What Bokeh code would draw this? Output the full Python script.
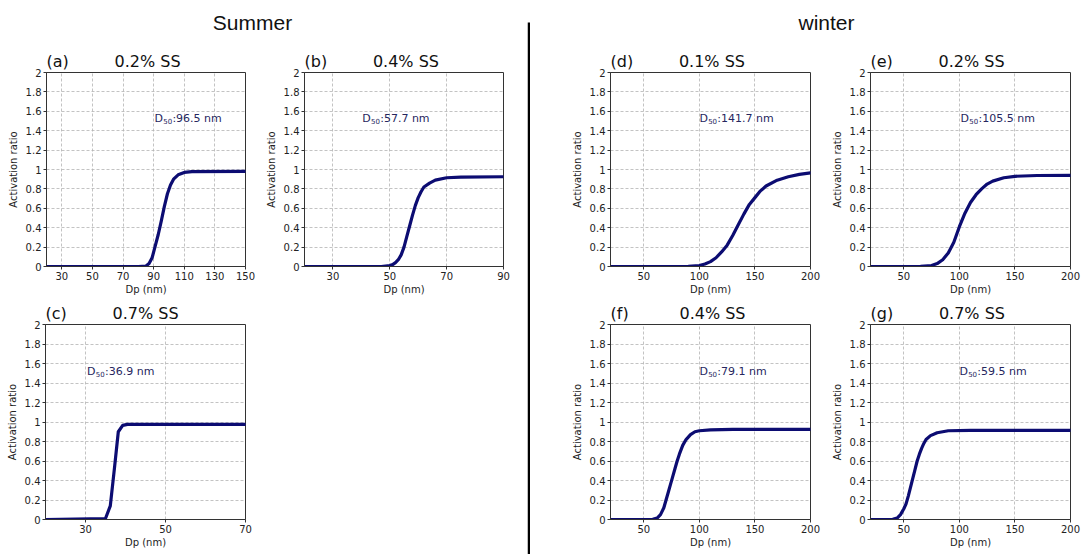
from bokeh.plotting import figure
from bokeh.models import Range1d, FixedTicker, Spacer
from bokeh.layouts import row, column
from bokeh.core.properties import value
from bokeh.embed import file_html
from bokeh.resources import INLINE

# ---------------- data ----------------
y_ticks = [0, 0.2, 0.4, 0.6, 0.8, 1, 1.2, 1.4, 1.6, 1.8, 2]
y_tick_labels = ["0", "0.2", "0.4", "0.6", "0.8", "1", "1.2", "1.4", "1.6", "1.8", "2"]

season_titles = ["Summer", "winter"]

# (a) summer 0.2% SS
a_x = [20, 80, 85, 87, 89, 91, 93, 95, 97, 99, 101, 103, 106, 110, 115, 150]
a_y = [0, 0, 0.005, 0.03, 0.09, 0.21, 0.33, 0.47, 0.62, 0.75, 0.84, 0.9, 0.945, 0.97, 0.978, 0.98]
a_xticks = [30, 50, 70, 90, 110, 130, 150]
a_xmax = 150
a_d50 = "96.5"

# (b) summer 0.4% SS
b_x = [20, 47, 50, 51, 52, 53, 54, 55, 56, 57, 58, 59, 60, 61, 62, 64, 66, 70, 75, 90]
b_y = [0, 0, 0.01, 0.02, 0.04, 0.07, 0.12, 0.2, 0.31, 0.42, 0.53, 0.63, 0.71, 0.77, 0.82, 0.86, 0.89, 0.915, 0.922, 0.925]
b_xticks = [30, 50, 70, 90]
b_xmax = 90
b_d50 = "57.7"

# (c) summer 0.7% SS
c_x = [20, 35, 36.2, 37.3, 38.2, 39.3, 40.5, 70]
c_y = [0, 0.01, 0.14, 0.55, 0.9, 0.965, 0.975, 0.975]
c_xticks = [30, 50, 70]
c_xmax = 70
c_d50 = "36.9"

# (d) winter 0.1% SS
d_x = [20, 90, 100, 105, 110, 115, 120, 125, 130, 135, 140, 145, 150, 155, 160, 170, 180, 190, 200]
d_y = [0, 0.002, 0.01, 0.025, 0.05, 0.09, 0.15, 0.22, 0.32, 0.43, 0.54, 0.64, 0.71, 0.78, 0.83, 0.89, 0.925, 0.95, 0.965]
d_d50 = "141.7"

# (e) winter 0.2% SS
e_x = [20, 65, 75, 80, 85, 90, 95, 100, 105, 110, 115, 120, 125, 130, 140, 150, 170, 200]
e_y = [0, 0.002, 0.01, 0.03, 0.07, 0.14, 0.25, 0.41, 0.55, 0.66, 0.74, 0.8, 0.85, 0.88, 0.915, 0.93, 0.938, 0.94]
e_d50 = "105.5"

# (f) winter 0.4% SS
f_x = [20, 58, 62, 65, 68, 70, 72, 74, 76, 78, 80, 82, 85, 88, 92, 96, 100, 110, 130, 200]
f_y = [0, 0.002, 0.015, 0.05, 0.12, 0.2, 0.28, 0.36, 0.44, 0.52, 0.6, 0.67, 0.76, 0.82, 0.87, 0.9, 0.91, 0.92, 0.925, 0.925]
f_d50 = "79.1"

# (g) winter 0.7% SS
g_x = [20, 40, 44, 47, 50, 52, 54, 56, 58, 60, 62, 64, 66, 68, 70, 74, 80, 90, 110, 200]
g_y = [0, 0.002, 0.015, 0.05, 0.11, 0.16, 0.24, 0.33, 0.42, 0.51, 0.6, 0.67, 0.73, 0.78, 0.82, 0.86, 0.89, 0.91, 0.915, 0.915]
g_d50 = "59.5"

w_xticks = [50, 100, 150, 200]
w_xmax = 200

# ---------------- styling ----------------
TXT = "DejaVu Sans"
CURVE = "#0c0c72"
AX = "#333333"
ANN = "#26265e"
TITLE_PX = 16
ANN_PX = 11
SUB_PX = 7
# DejaVu Sans advance widths (units per em 2048), used for text placement
ADV = {"(": 799, ")": 799, "a": 1255, "b": 1300, "c": 1126, "d": 1300, "e": 1260,
       "f": 721, "g": 1300, "0": 1303, "1": 1303, "2": 1303, "4": 1303, "5": 1303,
       "7": 1303, ".": 651, "%": 1946, " ": 651, "S": 1300, "D": 1577}
NBSP_PX = 651 / 2048 * TITLE_PX


def text_w(s, px):
    return sum(ADV.get(ch, 1300) for ch in s) / 2048 * px


def panel_title(tag, ss, frame_w):
    gap = frame_w / 2 - text_w(ss, TITLE_PX) / 2 - text_w(tag, TITLE_PX)
    n = max(1, int(round(gap / NBSP_PX)))
    return tag + "\u00a0" * n + ss


def panel(tag, ss, xs, ys, xmax, xticks, d50, d50x, d50y,
          width, height, left, right, top, bottom):
    p = figure(width=width, height=height, output_backend="svg", toolbar_location=None,
               x_range=Range1d(20, xmax), y_range=Range1d(0, 2),
               min_border_left=left, min_border_right=right,
               min_border_top=top, min_border_bottom=bottom)
    frame_w = width - left - right
    p.title.text = panel_title(tag, ss, frame_w)
    p.title.align = "left"
    p.title.offset = 0
    p.title.standoff = 3
    p.title.text_font = TXT
    p.title.text_font_size = "%dpx" % TITLE_PX
    p.title.text_font_style = "normal"
    p.title.text_color = "#111111"
    p.outline_line_color = AX
    p.outline_line_width = 1
    p.background_fill_color = "white"
    p.border_fill_color = "white"
    for ax in (p.xaxis[0], p.yaxis[0]):
        ax.axis_line_color = AX
        ax.major_tick_line_color = AX
        ax.major_tick_out = 3
        ax.major_tick_in = 0
        ax.minor_tick_line_color = None
        ax.major_label_text_font = TXT
        ax.major_label_text_font_size = "10px"
        ax.major_label_text_color = "#222222"
        ax.major_label_standoff = 2
        ax.axis_label_text_font = TXT
        ax.axis_label_text_font_size = "10px"
        ax.axis_label_text_font_style = "normal"
        ax.axis_label_text_color = "#222222"
    p.xaxis[0].ticker = FixedTicker(ticks=xticks)
    p.yaxis[0].ticker = FixedTicker(ticks=y_ticks)
    p.yaxis[0].major_label_overrides = {t: l for t, l in zip(y_ticks, y_tick_labels)}
    p.xaxis[0].axis_label = "Dp (nm)"
    p.yaxis[0].axis_label = "Activation ratio"
    p.xaxis[0].axis_label_standoff = 1
    p.yaxis[0].axis_label_standoff = 4
    for g in (p.xgrid[0], p.ygrid[0]):
        g.grid_line_color = "#b4b4b4"
        g.grid_line_dash = "3 2"
        g.grid_line_width = 0.8
    p.xgrid[0].ticker = FixedTicker(ticks=xticks)
    p.ygrid[0].ticker = FixedTicker(ticks=y_ticks)

    p.line(xs, ys, line_color=CURVE, line_width=3.2, line_join="round", line_cap="round")

    # "D" + subscript "50" + ":value nm"
    d_w = text_w("D", ANN_PX)
    sub_w = text_w("50", SUB_PX)
    p.text(x=[d50x], y=[d50y], text=["D"], text_font=value(TXT),
           text_font_size="%dpx" % ANN_PX, text_color=ANN,
           text_baseline="middle", text_align="left")
    p.text(x=[d50x], y=[d50y], text=["50"], x_offset=d_w + 0.3, y_offset=3,
           text_font=value(TXT), text_font_size="%dpx" % SUB_PX, text_color=ANN,
           text_baseline="middle", text_align="left")
    p.text(x=[d50x], y=[d50y], text=[":" + d50 + " nm"], x_offset=d_w + sub_w + 0.6,
           text_font=value(TXT), text_font_size="%dpx" % ANN_PX, text_color=ANN,
           text_baseline="middle", text_align="left")
    return p


def header(width, height, text, cx):
    h = figure(width=width, height=height, output_backend="svg", toolbar_location=None,
               x_range=Range1d(0, width), y_range=Range1d(0, height),
               min_border=0)
    h.axis.visible = False
    h.grid.visible = False
    h.outline_line_color = None
    h.text(x=[cx], y=[height - 22], text=[text], text_font=value("Liberation Sans"),
           text_font_size="21px", text_align="center", text_baseline="middle",
           text_color="#111111")
    return h


HEAD_H = 40
TOP_H = 258
BOT_H = 256

pa = panel("(a)", "0.2% SS", a_x, a_y, a_xmax, a_xticks, a_d50, 90.5, 1.53,
           257, TOP_H, 46, 12, 32, 32)
pb = panel("(b)", "0.4% SS", b_x, b_y, b_xmax, b_xticks, b_d50, 40.3, 1.53,
           270, TOP_H, 47, 24, 32, 32)
pc = panel("(c)", "0.7% SS", c_x, c_y, c_xmax, c_xticks, c_d50, 30.4, 1.52,
           257, BOT_H, 45, 12, 26, 35)
pd = panel("(d)", "0.1% SS", d_x, d_y, w_xmax, w_xticks, d_d50, 100, 1.53,
           292, TOP_H, 80, 12, 32, 32)
pe = panel("(e)", "0.2% SS", e_x, e_y, w_xmax, w_xticks, e_d50, 101, 1.53,
           261, TOP_H, 48, 13, 32, 32)
pf = panel("(f)", "0.4% SS", f_x, f_y, w_xmax, w_xticks, f_d50, 100, 1.52,
           292, BOT_H, 80, 12, 26, 35)
pg = panel("(g)", "0.7% SS", g_x, g_y, w_xmax, w_xticks, g_d50, 100, 1.52,
           261, BOT_H, 48, 13, 26, 35)

hl = header(527, HEAD_H, season_titles[0], 252)
hr = header(553, HEAD_H, season_titles[1], 296)

TOTAL_H = HEAD_H + TOP_H + BOT_H
sep = figure(width=3, height=TOTAL_H, output_backend="svg", toolbar_location=None,
             x_range=Range1d(0, 3), y_range=Range1d(0, TOTAL_H), min_border=0)
sep.axis.visible = False
sep.grid.visible = False
sep.outline_line_color = None
sep.segment(x0=[1.5], y0=[0], x1=[1.5], y1=[TOTAL_H - 22], line_color="#000000", line_width=3)

left_col = column(hl, row(pa, pb), row(pc, Spacer(width=270, height=BOT_H)))
right_col = column(hr, row(pd, pe), row(pf, pg))
layout = row(left_col, sep, right_col)

open("out.html", "w").write(file_html(layout, INLINE))
